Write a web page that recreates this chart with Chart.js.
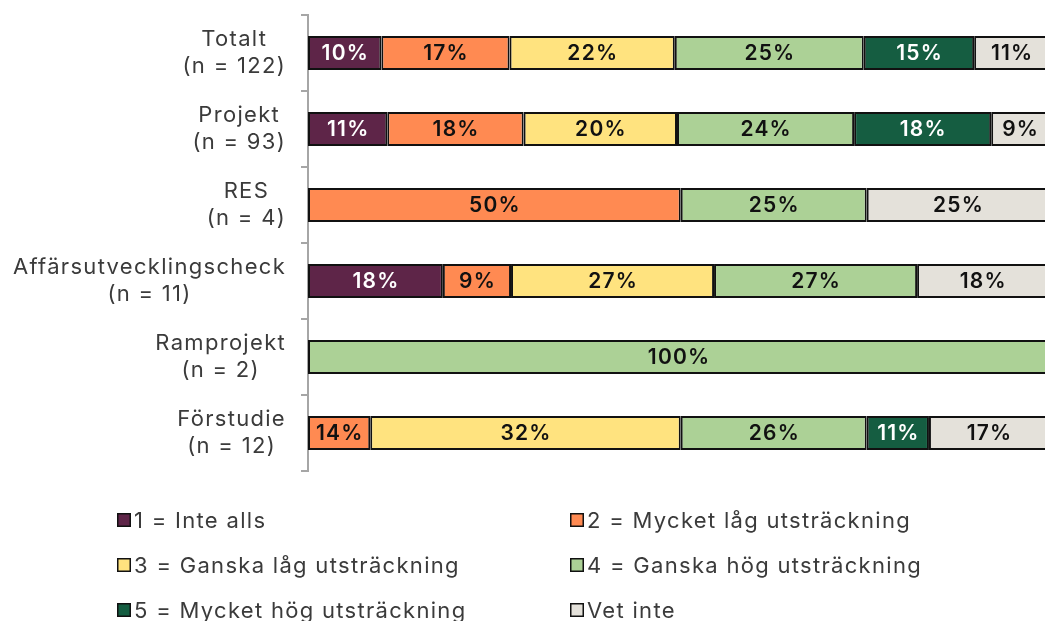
<!DOCTYPE html>
<html>
<head>
<meta charset="utf-8">
<script src="https://cdn.jsdelivr.net/npm/chart.js@4/dist/chart.umd.min.js"></script>
<style>
  html, body { margin: 0; padding: 0; background: #fff; overflow: hidden; }
  #wrap { width: 1049px; height: 621px; }
</style>
</head>
<body>
<div id="wrap"><canvas id="chart" width="1049" height="621"></canvas></div>
<script>
// Categories (two-line labels)
const categories = [
    ['Totalt', '(n = 122)'],
    ['Projekt', '(n = 93)'],
    ['RES', '(n = 4)'],
    ['Affärsutvecklingscheck', '(n = 11)'],
    ['Ramprojekt', '(n = 2)'],
    ['Förstudie', '(n = 12)']
];

const seriesNames = [
    '1 = Inte alls',
    '2 = Mycket låg utsträckning',
    '3 = Ganska låg utsträckning',
    '4 = Ganska hög utsträckning',
    '5 = Mycket hög utsträckning',
    'Vet inte'
];

// Bar lengths (share in %)
const inteAlls      = [9.9, 10.7, 0, 18.2, 0, 0];
const mycketLag     = [17.3, 18.4, 50.3, 9.2, 0, 8.4];
const ganskaLag     = [22.3, 20.7, 0, 27.4, 0, 41.9];
const ganskaHog     = [25.5, 23.9, 25.1, 27.4, 100, 25.1];
const mycketHog     = [14.9, 18.5, 0, 0, 0, 8.4];
const vetInte       = [10.1, 7.8, 24.6, 17.7, 0, 16.2];

// Printed labels inside the segments
const inteAllsText  = ['10%', '11%', '', '18%', '', ''];
const mycketLagText = ['17%', '18%', '50%', '9%', '', '14%'];
const ganskaLagText = ['22%', '20%', '', '27%', '', '32%'];
const ganskaHogText = ['25%', '24%', '25%', '27%', '100%', '26%'];
const mycketHogText = ['15%', '18%', '', '', '', '11%'];
const vetInteText   = ['11%', '9%', '25%', '18%', '', '17%'];

const colors = ['#5e2548', '#ff8a52', '#ffe37f', '#acd196', '#155d41', '#e4e1da'];
const textColors = ['#ffffff', '#111111', '#111111', '#111111', '#ffffff', '#111111'];

const values = [inteAlls, mycketLag, ganskaLag, ganskaHog, mycketHog, vetInte];
const texts = [inteAllsText, mycketLagText, ganskaLagText, ganskaHogText, mycketHogText, vetInteText];

const FONT = 'Inter, "Open Sans", sans-serif';
const labelGray = '#3b3b3b';

// Draws the percent labels in each segment
const segmentLabels = {
    id: 'segmentLabels',
    afterDatasetsDraw(chart) {
        const ctx = chart.ctx;
        ctx.save();
        ctx.font = '600 21px ' + FONT;
        ctx.letterSpacing = '1.2px';
        ctx.textAlign = 'center';
        ctx.textBaseline = 'middle';
        chart.data.datasets.forEach((ds, i) => {
            const meta = chart.getDatasetMeta(i);
            meta.data.forEach((bar, j) => {
                const t = texts[i][j];
                if (!t) return;
                ctx.fillStyle = textColors[i];
                ctx.fillText(t, (bar.x + bar.base) / 2 + 0.6, bar.y + 1);
            });
        });
        ctx.restore();
    }
};

// Category labels: lines centred on each other, block right aligned
const categoryLabels = {
    id: 'categoryLabels',
    afterDraw(chart) {
        const ctx = chart.ctx;
        const y = chart.scales.y;
        ctx.save();
        ctx.font = '22px ' + FONT;
        ctx.letterSpacing = '1.3px';
        ctx.fillStyle = labelGray;
        ctx.textAlign = 'center';
        ctx.textBaseline = 'middle';
        const right = y.right - 22;
        const lineH = 27;
        categories.forEach((lines, i) => {
            const w = Math.max(...lines.map(l => ctx.measureText(l).width));
            const cx = right - w / 2;
            const cy = y.getPixelForTick(i);
            lines.forEach((l, k) => {
                ctx.fillText(l, cx, cy + (k - (lines.length - 1) / 2) * lineH);
            });
        });
        ctx.restore();
    }
};

// Two-column legend below the plot
const gridLegend = {
    id: 'gridLegend',
    afterDraw(chart) {
        const ctx = chart.ctx;
        const area = chart.chartArea;
        const colX = [117, 570];
        ctx.save();
        ctx.font = '22px ' + FONT;
        ctx.letterSpacing = '1.3px';
        ctx.textBaseline = 'middle';
        ctx.textAlign = 'left';
        chart.data.datasets.forEach((ds, i) => {
            const x = colX[i % 2];
            const cy = area.bottom + 49 + Math.floor(i / 2) * 45;
            ctx.fillStyle = ds.backgroundColor;
            ctx.fillRect(x, cy - 7, 14, 14);
            ctx.strokeStyle = '#111';
            ctx.lineWidth = 1.5;
            ctx.strokeRect(x + 0.75, cy - 6.25, 12.5, 12.5);
            ctx.fillStyle = labelGray;
            ctx.fillText(ds.label, x + 17, cy + 1);
        });
        ctx.restore();
    }
};

new Chart(document.getElementById('chart'), {
    type: 'bar',
    data: {
        labels: categories,
        datasets: seriesNames.map((name, i) => ({
            label: name,
            data: values[i],
            backgroundColor: colors[i],
            borderColor: '#111111',
            borderWidth: 2,
            borderSkipped: false,
            barPercentage: 0.45,
            categoryPercentage: 1
        }))
    },
    options: {
        indexAxis: 'y',
        responsive: false,
        animation: false,
        layout: { padding: { top: 15, bottom: 150, left: 0, right: 0 } },
        plugins: {
            legend: { display: false },
            tooltip: { enabled: false }
        },
        scales: {
            x: {
                stacked: true,
                min: 0,
                max: 100,
                display: false
            },
            y: {
                stacked: true,
                afterFit(scale) { scale.width = 308; },
                grid: {
                    offset: true,
                    drawOnChartArea: false,
                    drawTicks: true,
                    tickLength: 7,
                    color: '#a6a6a6',
                    lineWidth: 2
                },
                border: { color: '#a6a6a6', width: 2 },
                ticks: { display: false }
            }
        }
    },
    plugins: [segmentLabels, categoryLabels, gridLegend]
});
</script>
</body>
</html>
